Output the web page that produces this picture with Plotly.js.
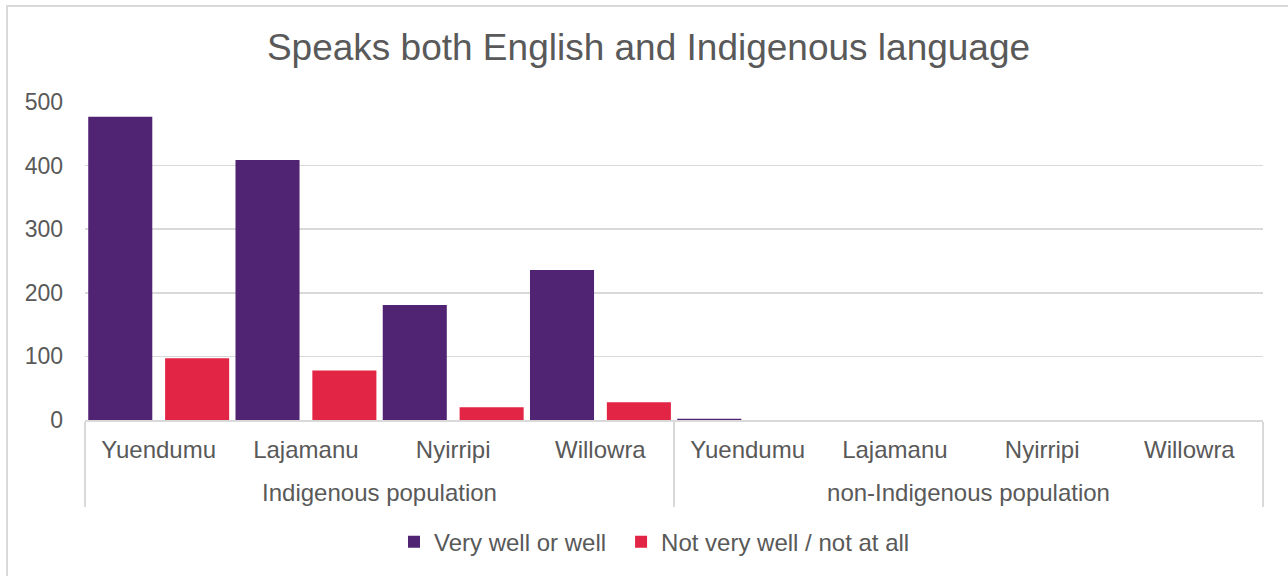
<html lang="en">
  <head>
    <meta charset="UTF-8" />
    <title>Speaks both English and Indigenous language</title>
    <script src="https://cdn.plot.ly/plotly-3.0.1.min.js"></script>
    <style>
      body { margin: 0; overflow: hidden; background: #fff; }
      #frame {
        position: absolute; left: 6px; top: 5px;
        width: 1320px; height: 620px;
        border: 2px solid #d9d9d9;
      }
      #chart { position: absolute; left: 0; top: 0; width: 1288px; height: 576px; }
    </style>
  </head>
  <body>
    <div id="frame"></div>
    <div id="chart"></div>
    <script>
      // data
      const groups = ["Indigenous population", "non-Indigenous population"];
      const places = ["Yuendumu", "Lajamanu", "Nyirripi", "Willowra"];
      const veryWellIndig = [477, 409, 181, 236];
      const notWellIndig = [97, 78, 20, 28];
      const veryWellNonIndig = [2, 0, 0, 0];
      const notWellNonIndig = [0, 0, 0, 0];

      const grey = "#595959";
      const font = "Arial, 'Liberation Sans', sans-serif";

      // invisible tall space: makes the first label row taller so the group row sits lower
      const spacer = (px) => '<span style="font-size:' + px + 'px">\u00A0</span>';
      const pad = spacer(44);

      // multicategory x: [group, place]
      const xGroup = [];
      const xPlace = [];
      groups.forEach((g) => places.forEach((p) => { xGroup.push(g); xPlace.push(pad + p + pad); }));

      const traces = [
        {
          name: "Very well or well" + spacer(36),
          type: "bar",
          x: [xGroup, xPlace],
          y: veryWellIndig.concat(veryWellNonIndig),
          marker: { color: "#512373" },
          width: 0.435,
          offset: -0.478,
        },
        {
          name: "Not very well / not at all",
          type: "bar",
          x: [xGroup, xPlace],
          y: notWellIndig.concat(notWellNonIndig),
          marker: { color: "#e32545" },
          width: 0.435,
          offset: 0.044,
        },
      ];

      const layout = {
        width: 1288,
        height: 576,
        margin: { l: 85, r: 25, t: 102, b: 154.5 },
        paper_bgcolor: "rgba(0,0,0,0)",
        plot_bgcolor: "rgba(0,0,0,0)",
        font: { family: font, color: grey, size: 24 },
        title: {
          text: "Speaks both English and Indigenous language",
          font: { size: 37, color: grey },
          x: 0.5035,
          xref: "container",
          y: 1 - 47 / 576,
          yref: "container",
          yanchor: "middle",
        },
        barmode: "group",
        showlegend: true,
        legend: {
          orientation: "h",
          x: 0.2623,
          xanchor: "left",
          y: -0.38,
          yanchor: "middle",
          font: { size: 24, color: grey },
          traceorder: "normal",
        },
        xaxis: {
          type: "multicategory",
          showline: true,
          linecolor: "#d9d9d9",
          linewidth: 1.5,
          showdividers: true,
          dividercolor: "#d9d9d9",
          dividerwidth: 1.5,
          tickfont: { size: 24, color: grey },
          tickangle: 0,
          ticks: "",
          ticklabelstandoff: 8,
        },
        yaxis: {
          range: [0, 500],
          dtick: 100,
          showgrid: true,
          gridcolor: "#d9d9d9",
          gridwidth: 1.5,
          zeroline: false,
          showline: false,
          tickfont: { size: 23, color: grey },
          ticklabelstandoff: 21,
        },
      };

      Plotly.newPlot("chart", traces, layout, { displayModeBar: false, staticPlot: true });
    </script>
  </body>
</html>
